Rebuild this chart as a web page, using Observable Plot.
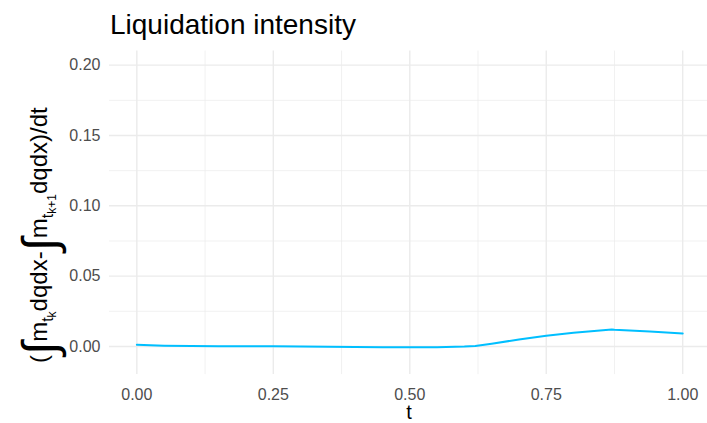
<!DOCTYPE html>
<html>
<head>
<meta charset="utf-8">
<script src="https://cdn.jsdelivr.net/npm/d3@7"></script>
<script src="https://cdn.jsdelivr.net/npm/@observablehq/plot@0.6"></script>
<style>
  html, body { margin: 0; padding: 0; background: #fff; }
  #chart svg { display: block; }
</style>
</head>
<body>
<div id="chart"></div>
<script>
const title = "Liquidation intensity";
const xLabel = "t";
const tValues = [0, 0.05, 0.1, 0.15, 0.25, 0.35, 0.45, 0.5, 0.55, 0.6, 0.62, 0.65, 0.7, 0.75, 0.8, 0.87, 0.875, 0.94, 1.0];
const intensity = [0.0012, 0.0006, 0.0003, 0.0002, 0.0001, -0.0002, -0.0005, -0.0006, -0.0005, -0.0001, 0.0003, 0.0019, 0.0050, 0.0077, 0.0097, 0.0121, 0.0119, 0.0106, 0.0092];
const xTicks = [0, 0.25, 0.5, 0.75, 1];
const xMinor = [0.125, 0.375, 0.625, 0.875];
const yTicks = [0, 0.05, 0.1, 0.15, 0.2];
const yMinor = [0.025, 0.075, 0.125, 0.175];

const data = tValues.map((t, i) => ({t, v: intensity[i]}));
const font = "'Liberation Sans', Arial, sans-serif";
const xDomain = [-0.05, 1.05], yDomain = [-0.02, 0.21];

const chart = Plot.plot({
  width: 707, height: 423,
  marginLeft: 109, marginRight: 0, marginTop: 51, marginBottom: 49,
  style: {fontFamily: font, background: "#fff"},
  x: {domain: xDomain, range: [109.05, 709.5], label: null, axis: null},
  y: {domain: yDomain, range: [374.1, 50.6], label: null, axis: null},
  marks: [
    Plot.ruleX(xMinor, {x: d => d, y1: yDomain[0], y2: yDomain[1], stroke: "#EBEBEB", strokeWidth: 0.7}),
    Plot.ruleY(yMinor, {y: d => d, x1: xDomain[0], x2: xDomain[1], stroke: "#EBEBEB", strokeWidth: 0.7}),
    Plot.ruleX(xTicks, {x: d => d, y1: yDomain[0], y2: yDomain[1], stroke: "#EBEBEB", strokeWidth: 1.4}),
    Plot.ruleY(yTicks, {y: d => d, x1: xDomain[0], x2: xDomain[1], stroke: "#EBEBEB", strokeWidth: 1.4}),
    Plot.axisX(xTicks, {tickSize: 0, tickPadding: 0, tickFormat: d3.format(".2f"), fontSize: 16, fill: "#4D4D4D", label: null, dy: 14, textAnchor: "middle"}),
    Plot.axisY(yTicks, {tickSize: 0, tickPadding: 9, tickFormat: d3.format(".2f"), fontSize: 16, fill: "#4D4D4D", label: null}),
    Plot.line(data, {x: "t", y: "v", stroke: "#00BFFF", strokeWidth: 2})
  ]
});
document.getElementById("chart").appendChild(chart);

const svg = d3.select(chart);
svg.append("text").attr("x", 110).attr("y", 34).attr("font-family", font)
  .attr("text-anchor", "start").attr("font-size", 28).attr("fill", "#000").text(title);
svg.append("text").attr("x", 409).attr("y", 419).attr("font-family", font)
  .attr("font-size", 20).attr("text-anchor", "middle").attr("fill", "#000").text(xLabel);

// y axis title with plotmath-like subscripts
const yl = svg.append("text").attr("transform", "translate(47,363) rotate(-90)")
  .attr("font-family", font).attr("font-size", 24).attr("text-anchor", "start").attr("fill", "#000");
function part(txt, opts = {}) {
  const s = yl.append("tspan").text(txt);
  if (opts.size) s.attr("font-size", opts.size);
  if (opts.dy) s.attr("dy", opts.dy);
  return s;
}
part("(");
part("\u222B", {size: 48, dy: 9});
part("m", {dy: -9});
part("t", {size: 16, dy: 6});
part("k", {size: 12, dy: 3});
part("dqdx-", {dy: -9});
part("\u222B", {size: 48, dy: 9});
part("m", {dy: -9});
part("t", {size: 16, dy: 6});
part("k+1", {size: 12, dy: 3});
part("dqdx)/dt", {dy: -9});
</script>
</body>
</html>
